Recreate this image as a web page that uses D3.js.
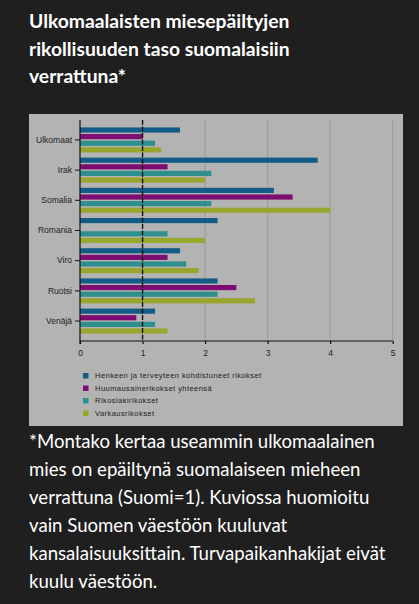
<!DOCTYPE html>
<html>
<head>
<meta charset="utf-8">
<script src="https://cdn.jsdelivr.net/npm/d3@7"></script>
<style>
  body { margin: 0; background: #1f1f1f; }
  svg { display: block; }
</style>
</head>
<body>
<div id="chart"></div>
<script>
const titleLines = ["Ulkomaalaisten miesepäiltyjen", "rikollisuuden taso suomalaisiin", "verrattuna*"];
const noteLines = [
  "*Montako kertaa useammin ulkomaalainen",
  "mies on epäiltynä suomalaiseen mieheen",
  "verrattuna (Suomi=1). Kuviossa huomioitu",
  "vain Suomen väestöön kuuluvat",
  "kansalaisuuksittain. Turvapaikanhakijat eivät",
  "kuulu väestöön."
];

const countries = ["Ulkomaat", "Irak", "Somalia", "Romania", "Viro", "Ruotsi", "Venäjä"];
const seriesNames = [
  "Henkeen ja terveyteen kohdistuneet rikokset",
  "Huumausainerikokset yhteensä",
  "Rikoslakirikokset",
  "Varkausrikokset"
];
const henkeen = [1.6, 3.8, 3.1, 2.2, 1.6, 2.2, 1.2];
const huumaus = [1.0, 1.4, 3.4, 0, 1.4, 2.5, 0.9];
const rikoslaki = [1.2, 2.1, 2.1, 1.4, 1.7, 2.2, 1.2];
const varkaus = [1.3, 2.0, 4.0, 2.0, 1.9, 2.8, 1.4];
const xTicks = [0, 1, 2, 3, 4, 5];

const seriesValues = [henkeen, huumaus, rikoslaki, varkaus];
const colors = d3.scaleOrdinal(seriesNames, ["#125c87", "#7d0d72", "#2e8f8c", "#98a62e"]);

const W = 419, H = 604;
const svg = d3.select('#chart').append('svg')
    .attr('width', W)
    .attr('height', H);

// title
svg.append('g').selectAll('text')
    .data(titleLines)
    .enter().append('text')
    .attr('x', 29)
    .attr('y', (d, i) => 28 + i * 27.5)
    .attr('fill', '#ffffff')
    .style('font-family', 'Lato, sans-serif')
    .style('font-weight', 'bold')
    .style('font-size', '19.3px')
    .text(d => d);

// chart panel
svg.append('rect')
    .attr('x', 29).attr('y', 114)
    .attr('width', 374).attr('height', 312)
    .attr('fill', '#b3b3b3');

const x = d3.scaleLinear().domain([0, 5]).range([80, 392.7]);
const y = d3.scaleBand().domain(countries).range([120, 341]).paddingOuter(0.16);
const ySub = d3.scaleBand().domain(seriesNames).range([0, 25]).paddingInner(0.22);

const plot = svg.append('g');

// grid lines
plot.selectAll('.grid')
    .data(xTicks.filter(t => t > 1))
    .enter().append('line')
    .attr('x1', d => x(d)).attr('x2', d => x(d))
    .attr('y1', 120).attr('y2', 341)
    .attr('stroke', '#9a9a9a')
    .attr('stroke-width', 1);

// bars
const groups = plot.selectAll('.group')
    .data(countries)
    .enter().append('g')
    .attr('transform', c => `translate(0, ${y(c) + y.bandwidth() / 2 - 12.5})`);

groups.selectAll('rect')
    .data((c, ci) => seriesNames.map((s, si) => ({ s: s, v: seriesValues[si][ci] })))
    .enter().append('rect')
    .attr('x', x(0))
    .attr('y', d => ySub(d.s))
    .attr('width', d => x(d.v) - x(0))
    .attr('height', ySub.bandwidth())
    .attr('fill', d => colors(d.s));

// reference line at 1
plot.append('line')
    .attr('x1', x(1)).attr('x2', x(1))
    .attr('y1', 120).attr('y2', 341)
    .attr('stroke', '#111')
    .attr('stroke-width', 1.4)
    .attr('stroke-dasharray', '5,1.5');

// axes
const xAxis = plot.append('g')
    .attr('transform', 'translate(0,341)')
    .call(d3.axisBottom(x).tickValues(xTicks).tickFormat(d3.format('d')).tickSizeOuter(0).tickSize(3).tickPadding(6));

const yAxis = plot.append('g')
    .attr('transform', `translate(${x(0)},0)`)
    .call(d3.axisLeft(y).tickSize(5).tickSizeOuter(0).tickPadding(3));

yAxis.select('.domain').attr('d', 'M0,120V344');
xAxis.select('.domain').attr('d', `M${x(0)},0H${x(5)}`);

[xAxis, yAxis].forEach(a => {
  a.selectAll('.domain, line').attr('stroke', '#111').attr('stroke-width', 1.2);
  a.selectAll('text')
    .attr('fill', '#222')
    .style('font-family', '"Liberation Sans", Arial, sans-serif')
    .style('font-size', '8.5px');
});
yAxis.selectAll('.tick line').attr('stroke-width', 1);

// legend
const legend = svg.append('g').selectAll('g')
    .data(seriesNames)
    .enter().append('g')
    .attr('transform', (d, i) => `translate(83, ${373 + i * 12.5})`);

legend.append('rect')
    .attr('width', 5.5).attr('height', 5.5)
    .attr('fill', d => colors(d));

legend.append('text')
    .attr('x', 12)
    .attr('y', 5.4)
    .attr('fill', '#222')
    .style('font-family', '"Liberation Sans", Arial, sans-serif')
    .style('font-size', '7.6px')
    .style('letter-spacing', '0.4px')
    .text(d => d);

// footnote
svg.append('g').selectAll('text')
    .data(noteLines)
    .enter().append('text')
    .attr('x', 29)
    .attr('y', (d, i) => 448 + i * 28)
    .attr('fill', '#ffffff')
    .style('font-family', 'Lato, sans-serif')
    .style('font-size', '18.6px')
    .text(d => d);
</script>
</body>
</html>
